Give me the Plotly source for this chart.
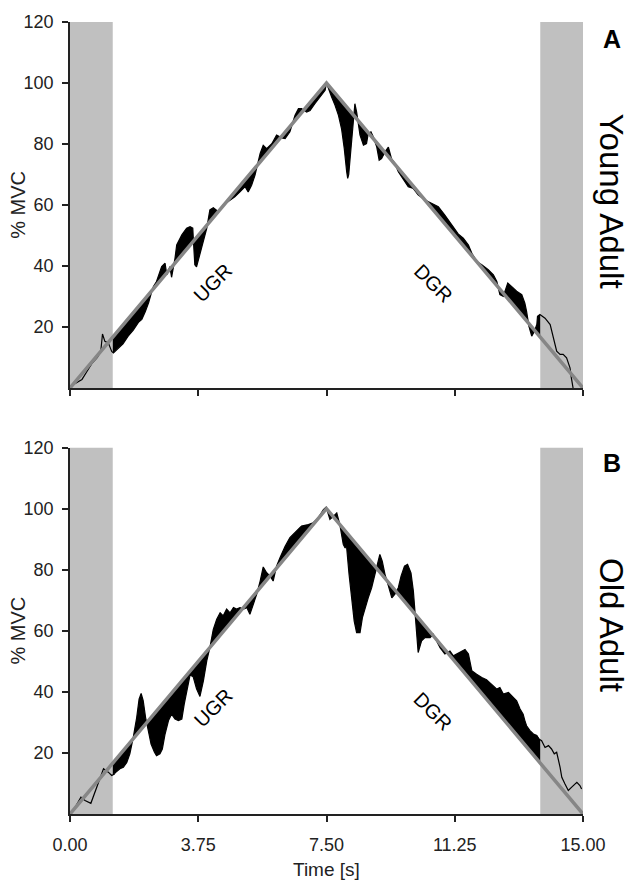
import numpy as np
import plotly.graph_objects as go

# ---------------- data ----------------
x_tickvals = [0, 3.75, 7.5, 11.25, 15]
x_ticktext = ["0.00", "3.75", "7.50", "11.25", "15.00"]
y_tickvals = [20, 40, 60, 80, 100, 120]

target_t = [0, 7.5, 15]
target_f = [0, 100, 0]

window_start = 1.25
window_end = 13.75

young_t = [0.00, 0.15, 0.35, 0.50, 0.65, 0.80, 0.90, 0.95, 1.02, 1.12, 1.22, 1.27, 1.40, 1.55, 1.70,
           1.85, 2.00, 2.10, 2.20, 2.30, 2.40, 2.44, 2.53, 2.63, 2.68, 2.78, 2.83, 2.92, 2.97, 3.07,
           3.12, 3.27, 3.41, 3.51, 3.59, 3.61, 3.65, 3.70, 3.80, 3.90, 4.00, 4.04, 4.09, 4.19, 4.34,
           4.48, 4.63, 4.82, 4.97, 5.12, 5.21, 5.31, 5.41, 5.51, 5.56, 5.65, 5.75, 5.90, 6.04, 6.19,
           6.29, 6.43, 6.58, 6.68, 6.77, 6.92, 7.02, 7.16, 7.31, 7.46, 7.50,
           7.53, 7.65, 7.75, 7.85, 7.94, 8.02, 8.09, 8.12, 8.15, 8.19, 8.24, 8.28, 8.33, 8.38, 8.43,
           8.48, 8.58, 8.67, 8.72, 8.80, 8.87, 8.97, 9.04, 9.11, 9.21, 9.31, 9.40, 9.50, 9.60, 9.70,
           9.80, 9.89, 10.04, 10.18, 10.38, 10.58, 10.77, 10.96, 11.16, 11.35, 11.50, 11.65, 11.75,
           11.89, 12.04, 12.23, 12.38, 12.48, 12.57, 12.67, 12.72, 12.80, 12.91, 13.06, 13.21, 13.30,
           13.35, 13.42, 13.50, 13.58, 13.65, 13.67, 13.74, 13.89, 14.04, 14.13, 14.23, 14.33, 14.42,
           14.52, 14.62, 14.66, 14.71]
young_f = [0.5, 1.5, 2.8, 5.5, 8.2, 10.0, 12.0, 17.7, 15.3, 14.8, 12.0, 11.5, 13.0, 14.5, 17.0,
           19.0, 21.5, 22.5, 25.0, 28.0, 32.0, 33.3, 34.9, 38.5, 39.8, 40.9, 37.1, 39.8, 36.3, 42.5,
           46.9, 50.2, 52.4, 52.9, 52.4, 48.0, 40.4, 39.7, 43.7, 48.0, 52.4, 55.1, 58.4, 59.1, 57.8,
           60.0, 61.1, 62.7, 64.3, 66.0, 64.3, 66.5, 69.8, 74.7, 76.9, 79.6, 78.5, 80.1, 82.9, 82.0,
           81.8, 84.0, 89.4, 91.6, 91.6, 90.5, 91.0, 93.2, 95.4, 97.6, 100.0,
           99.0, 95.4, 92.7, 89.4, 85.0, 78.5, 70.9, 68.7, 70.0, 75.2, 81.8, 88.3, 93.2, 90.5, 87.2,
           82.9, 79.6, 80.1, 83.4, 84.0, 82.3, 79.0, 74.7, 75.2, 77.4, 79.0, 75.2, 73.6, 70.9, 69.2,
           67.6, 66.0, 65.4, 63.3, 61.6, 60.5, 59.4, 56.7, 53.5, 50.5, 49.1, 46.9, 44.2,
           41.5, 40.4, 38.8, 37.1, 34.9, 30.6, 30.0, 31.7, 34.4, 33.3, 31.7, 30.6, 27.8,
           25.1, 20.2, 17.0, 18.6, 20.8, 23.5, 24.1, 22.9, 20.8, 16.4, 12.1, 11.0, 11.0,
           9.9, 6.6, 3.3, 0.0]

old_t = [0.00, 0.15, 0.32, 0.44, 0.61, 0.78, 0.88, 0.98, 1.12, 1.22, 1.30, 1.32, 1.46, 1.56, 1.66,
         1.75, 1.85, 1.95, 2.02, 2.08, 2.14, 2.21, 2.29, 2.37, 2.47, 2.53, 2.63, 2.70, 2.78, 2.88,
         2.97, 3.07, 3.17, 3.27, 3.34, 3.44, 3.51, 3.60, 3.70, 3.80, 3.90, 4.00, 4.09, 4.19, 4.29,
         4.39, 4.48, 4.58, 4.68, 4.78, 4.87, 4.97, 5.07, 5.17, 5.26, 5.36, 5.46, 5.56, 5.65, 5.75,
         5.85, 5.94, 6.04, 6.14, 6.29, 6.43, 6.58, 6.77, 6.97, 7.11, 7.26, 7.41, 7.49,
         7.60, 7.70, 7.80, 7.89, 7.99, 8.04, 8.09, 8.16, 8.24, 8.31, 8.38, 8.48, 8.55, 8.63, 8.72,
         8.82, 8.92, 9.00, 9.06, 9.13, 9.21, 9.31, 9.41, 9.50, 9.60, 9.68, 9.78, 9.87, 9.97, 10.04,
         10.09, 10.14, 10.18, 10.28, 10.38, 10.53, 10.62, 10.72, 10.82, 10.96, 11.11, 11.21, 11.31,
         11.45, 11.55, 11.65, 11.75, 11.89, 12.04, 12.18, 12.33, 12.48, 12.57, 12.67, 12.82, 12.96,
         13.06, 13.16, 13.25, 13.30, 13.35, 13.45, 13.55, 13.65, 13.71, 13.79, 13.89, 13.99, 14.08,
         14.16, 14.23, 14.33, 14.38, 14.47, 14.57, 14.67, 14.82, 14.91, 14.96]
old_f = [0.3, 2.2, 5.5, 4.4, 3.5, 8.8, 12.0, 14.8, 13.7, 12.6, 13.1, 13.5, 14.8, 15.3, 16.9,
         19.7, 25.1, 31.6, 37.6, 39.5, 37.1, 31.6, 27.3, 22.9, 20.2, 19.1, 19.7, 21.3, 26.2, 30.6,
         32.7, 31.1, 30.6, 31.1, 36.0, 42.0, 45.5, 45.0, 41.0, 38.5, 43.6, 50.2, 54.5, 60.5, 63.8,
         65.9, 64.9, 67.1, 65.9, 67.6, 67.1, 67.6, 67.1, 67.6, 65.4, 68.7, 72.0, 76.3, 80.9, 79.0,
         77.9, 76.3, 81.2, 83.9, 87.7, 90.5, 92.1, 94.3, 94.8, 95.4, 97.0, 99.7, 100.5,
         96.5, 97.5, 98.6, 94.8, 88.3, 87.2, 87.2, 78.5, 69.8, 63.2, 59.4, 59.4, 64.3, 67.6, 70.8,
         74.1, 78.5, 82.3, 85.0, 82.8, 78.5, 74.7, 70.8, 72.0, 74.1, 77.9, 81.2, 81.8, 79.0, 73.0,
         66.5, 60.0, 52.9, 56.7, 57.8, 57.8, 58.9, 56.7, 54.5, 52.4, 53.4, 51.8, 52.5,
         53.4, 53.9, 52.4, 46.9, 45.8, 44.7, 44.0, 42.5, 40.9, 41.4, 39.3, 39.8, 38.2,
         37.1, 34.4, 32.7, 30.6, 28.9, 27.3, 26.2, 25.7, 24.6, 24.0, 21.8, 22.4, 21.3,
         19.7, 20.2, 15.3, 12.0, 9.9, 7.7, 8.8, 10.4, 9.3, 8.2]

panel_labels = ["A", "B"]
group_labels = ["Young Adult", "Old Adult"]

# ---------------- styles ----------------
FONT = "Liberation Sans, Arial, sans-serif"
AXC = "#222222"
GRAY_RECT = "#c0c0c0"
TARGET_C = "#868686"


def clip(t, f, a, b):
    t = np.asarray(t, float)
    f = np.asarray(f, float)
    m = (t > a) & (t < b)
    tw = np.concatenate([[a], t[m], [b]])
    fw = np.concatenate([[np.interp(a, t, f)], f[m], [np.interp(b, t, f)]])
    return tw, fw


fig = go.Figure()
panels = [(young_t, young_f, "x", "y"), (old_t, old_f, "x2", "y2")]
for t, f, xa, ya in panels:
    tt, tf = clip(target_t, target_f, window_start, window_end)
    ft, ff = clip(t, f, window_start, window_end)
    fig.add_trace(go.Scatter(x=tt, y=tf, mode="lines", line=dict(width=0, color="black"),
                             xaxis=xa, yaxis=ya, showlegend=False, hoverinfo="skip"))
    fig.add_trace(go.Scatter(x=ft, y=ff, mode="lines", line=dict(width=0, color="black"),
                             fill="tonexty", fillcolor="black",
                             xaxis=xa, yaxis=ya, showlegend=False, hoverinfo="skip"))
    fig.add_trace(go.Scatter(x=t, y=f, mode="lines", line=dict(width=1.2, color="black"),
                             xaxis=xa, yaxis=ya, showlegend=False))
    fig.add_trace(go.Scatter(x=target_t, y=target_f, mode="lines",
                             line=dict(width=3.5, color=TARGET_C),
                             xaxis=xa, yaxis=ya, showlegend=False))
    for x0, x1 in [(target_t[0], window_start), (window_end, target_t[-1])]:
        fig.add_shape(type="rect", xref=xa, yref=ya, x0=x0, x1=x1, y0=0, y1=120,
                      fillcolor=GRAY_RECT, line=dict(width=0), layer="below")

axis_common = dict(showgrid=False, zeroline=False, showline=True, linecolor=AXC, linewidth=1.5,
                   ticks="outside", ticklen=6, tickwidth=1.5, tickcolor=AXC,
                   tickfont=dict(family=FONT, size=18, color=AXC))

fig.update_layout(
    width=630, height=883, autosize=False,
    margin=dict(l=70, r=47, t=20, b=69),
    paper_bgcolor="white", plot_bgcolor="white",
    font=dict(family=FONT, color=AXC),
    xaxis=dict(domain=[0, 1], range=[0, 15], anchor="y", tickvals=x_tickvals,
               showticklabels=False, **axis_common),
    yaxis=dict(domain=[0.5379, 1], range=[0, 120], anchor="x", tickvals=y_tickvals,
               ticklabelstandoff=5, **axis_common),
    xaxis2=dict(domain=[0, 1], range=[0, 15], anchor="y2", tickvals=x_tickvals,
                ticktext=x_ticktext, ticklabelstandoff=8, **axis_common),
    yaxis2=dict(domain=[0, 0.4626], range=[0, 120], anchor="x2", tickvals=y_tickvals,
                ticklabelstandoff=5, **axis_common),
)

C = dict(xanchor="center", yanchor="middle", showarrow=False)
ann = []
# UGR / DGR labels
for xa, ya, yu, yd in [("x", "y", 34.3, 34.3), ("x2", "y2", 34.8, 33.8)]:
    ann.append(dict(x=4.18, y=yu, xref=xa, yref=ya, text="UGR", textangle=-45,
                    font=dict(family=FONT, size=20, color="black"), **C))
    ann.append(dict(x=10.61, y=yd, xref=xa, yref=ya, text="DGR", textangle=45,
                    font=dict(family=FONT, size=20, color="black"), **C))
# panel letters and group labels
for lab, y in zip(panel_labels, [0.978, 0.4427]):
    ann.append(dict(x=1.0565, y=y, xref="paper", yref="paper", text="<b>%s</b>" % lab,
                    font=dict(family=FONT, size=25, color="black"), **C))
for lab, x, y in zip(group_labels, [1.0545, 1.0555], [0.7733, 0.238]):
    ann.append(dict(x=x, y=y, xref="paper", yref="paper", text=lab, textangle=90,
                    font=dict(family=FONT, size=33, color="black"), **C))
# axis titles
for y in [0.7691, 0.2316]:
    ann.append(dict(x=-0.1014, y=y, xref="paper", yref="paper", text="% MVC", textangle=-90,
                    font=dict(family=FONT, size=20, color=AXC), **C))
ann.append(dict(x=0.5, y=-0.0705, xref="paper", yref="paper", text="Time [s]",
                font=dict(family=FONT, size=19, color=AXC), **C))
fig.update_layout(annotations=ann)

fig.write_html("out.html")
